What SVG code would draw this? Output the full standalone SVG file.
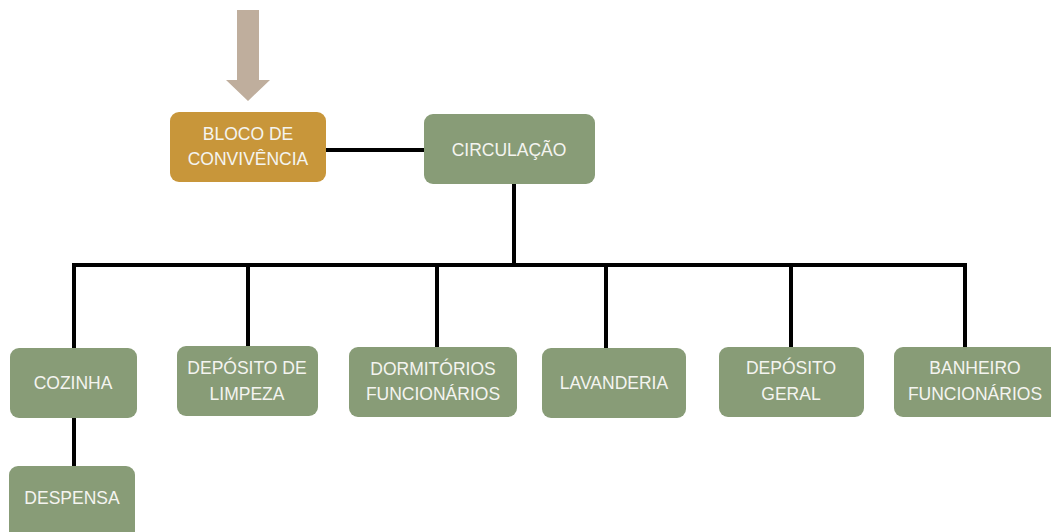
<svg xmlns="http://www.w3.org/2000/svg" width="1051" height="532" viewBox="0 0 1051 532">
  <style>
    .node { fill: #889C77; }
    .entry { fill: #C8963A; }
    .label { font-family: "Liberation Sans", Arial, sans-serif; font-size: 17.5px; fill: #F4F4F0; text-anchor: middle; dominant-baseline: central; }
    .wire { stroke: #000; stroke-width: 4; fill: none; }
  </style>
  <rect width="1051" height="532" fill="#fff"/>

  <!-- entry arrow -->
  <polygon points="237,10 259,10 259,80 270,80 248,101 226,80 237,80" fill="#BFAE9D"/>

  <g id="connectors">
    <line class="wire" x1="325" y1="150" x2="425" y2="150"/>
    <line class="wire" x1="514" y1="184" x2="514" y2="265"/>
    <polyline class="wire" points="74,349 74,265 965,265 965,348"/>
    <line class="wire" x1="248" y1="265" x2="248" y2="347"/>
    <line class="wire" x1="437" y1="265" x2="437" y2="348"/>
    <line class="wire" x1="606" y1="265" x2="606" y2="348"/>
    <line class="wire" x1="791" y1="265" x2="791" y2="347"/>
    <line class="wire" x1="74" y1="418" x2="74" y2="466"/>
  </g>

  <g id="bloco">
    <rect class="entry" x="170" y="112" width="156" height="70" rx="9"/>
    <text class="label" x="248" y="134">BLOCO DE</text>
    <text class="label" x="248" y="159">CONVIVÊNCIA</text>
  </g>
  <g id="circulacao">
    <rect class="node" x="424" y="114" width="171" height="70" rx="9"/>
    <text class="label" x="509" y="150">CIRCULAÇÃO</text>
  </g>
  <g id="cozinha">
    <rect class="node" x="10" y="348" width="127" height="70" rx="9"/>
    <text class="label" x="73" y="383">COZINHA</text>
  </g>
  <g id="despensa">
    <rect class="node" x="9" y="466" width="126" height="76" rx="9"/>
    <text class="label" x="72" y="498">DESPENSA</text>
  </g>
  <g id="deposito-limpeza">
    <rect class="node" x="177" y="346" width="141" height="70" rx="9"/>
    <text class="label" x="247" y="368">DEPÓSITO DE</text>
    <text class="label" x="247" y="394">LIMPEZA</text>
  </g>
  <g id="dormitorios">
    <rect class="node" x="349" y="347" width="168" height="70" rx="9"/>
    <text class="label" x="433" y="369">DORMITÓRIOS</text>
    <text class="label" x="433" y="394">FUNCIONÁRIOS</text>
  </g>
  <g id="lavanderia">
    <rect class="node" x="542" y="348" width="144" height="70" rx="9"/>
    <text class="label" x="614" y="383">LAVANDERIA</text>
  </g>
  <g id="deposito-geral">
    <rect class="node" x="719" y="347" width="145" height="70" rx="9"/>
    <text class="label" x="791" y="368">DEPÓSITO</text>
    <text class="label" x="791" y="394">GERAL</text>
  </g>
  <g id="banheiro">
    <rect class="node" x="894" y="347" width="165" height="70" rx="9"/>
    <text class="label" x="975" y="368">BANHEIRO</text>
    <text class="label" x="975" y="394">FUNCIONÁRIOS</text>
  </g>
</svg>
